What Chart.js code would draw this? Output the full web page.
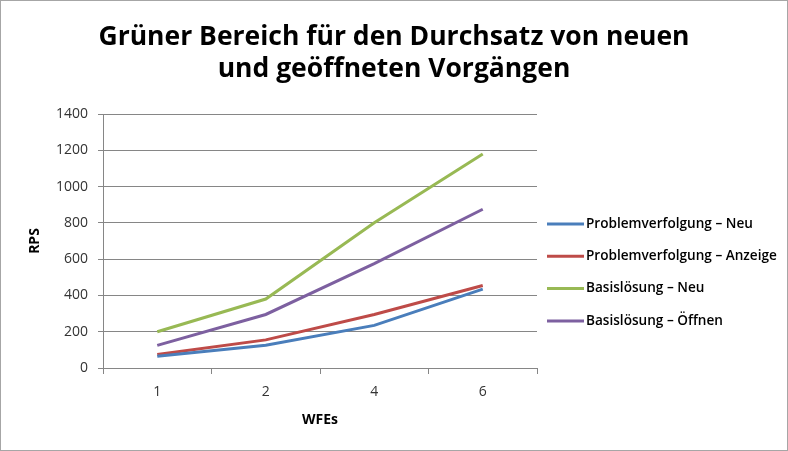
<!DOCTYPE html>
<html>
<head>
<meta charset="utf-8">
<script src="https://cdn.jsdelivr.net/npm/chart.js@4"></script>
<style>
  html, body { margin: 0; padding: 0; background: #fff; }
  #box { width: 788px; height: 451px; box-sizing: border-box; border: 1px solid #a6a6a6; position: relative; }
</style>
</head>
<body>
<div id="box"><canvas id="rps"></canvas></div>
<script>
// data
const wfes = ['1', '2', '4', '6'];
const problemNeu = [65, 125, 235, 435];
const problemAnzeige = [75, 155, 295, 455];
const basisNeu = [200, 380, 800, 1180];
const basisOeffnen = [125, 295, 575, 875];
const seriesNames = ['Problemverfolgung – Neu', 'Problemverfolgung – Anzeige', 'Basislösung – Neu', 'Basislösung – Öffnen'];
const seriesColors = ['#4a7ebb', '#be4b48', '#98b954', '#7d60a0'];
const yMax = 1400;
const yStep = 200;

const FONT = '"Open Sans", sans-serif';

// legend drawn on the right, one line per dataset
const sideLegend = {
  id: 'sideLegend',
  afterDraw(chart) {
    const c = chart.ctx;
    const x0 = chart.chartArea.right + 10;
    let y = 223;
    c.save();
    c.font = '600 13.6px ' + FONT;
    c.textBaseline = 'middle';
    c.fillStyle = '#000';
    chart.data.datasets.forEach(function (ds) {
      c.strokeStyle = ds.borderColor;
      c.lineWidth = 3;
      c.beginPath();
      c.moveTo(x0, y);
      c.lineTo(x0 + 37, y);
      c.stroke();
      c.fillText(ds.label, x0 + 39, y);
      y += 32.3;
    });
    c.restore();
  }
};

const sets = [problemNeu, problemAnzeige, basisNeu, basisOeffnen].map(function (vals, i) {
  return {
    label: seriesNames[i],
    data: vals,
    borderColor: seriesColors[i],
    backgroundColor: seriesColors[i],
    borderWidth: 3,
    pointRadius: 0,
    tension: 0
  };
});

new Chart(document.getElementById('rps'), {
  type: 'line',
  data: { labels: wfes, datasets: sets },
  plugins: [sideLegend],
  options: {
    responsive: true,
    maintainAspectRatio: false,
    animation: false,
    layout: { padding: 0 },
    plugins: {
      legend: { display: false },
      tooltip: { enabled: false },
      title: {
        display: true,
        text: ['Grüner Bereich für den Durchsatz von neuen', 'und geöffneten Vorgängen'],
        color: '#000',
        font: { family: FONT, size: 26.5, weight: 'bold', lineHeight: 1.2 },
        padding: { top: 21, bottom: 28.4 }
      }
    },
    scales: {
      x: {
        offset: true,
        grid: { offset: true, drawOnChartArea: false, color: '#868686', tickLength: 6 },
        border: { color: '#868686' },
        ticks: { color: '#333', font: { family: FONT, size: 14 }, padding: 10 },
        title: { display: true, text: 'WFEs', color: '#000', font: { family: FONT, size: 14, weight: 'bold' }, padding: { top: 4, bottom: 22 } },
        afterFit: function (s) { s.height = 82; }
      },
      y: {
        min: 0,
        max: yMax,
        grid: { color: '#868686', tickLength: 5 },
        border: { color: '#868686' },
        ticks: { stepSize: yStep, color: '#333', font: { family: FONT, size: 14 }, padding: 10,
                 callback: function (v) { return String(v); } },
        title: { display: true, text: 'RPS', color: '#000', font: { family: FONT, size: 14, weight: 'bold' }, padding: { top: 26, bottom: 4 } },
        afterFit: function (s) { s.width = 102; }
      },
      // empty axis on the right only keeps room for the legend
      side: {
        type: 'linear',
        position: 'right',
        display: true,
        grid: { display: false },
        border: { display: false },
        ticks: { display: false },
        afterFit: function (s) { s.width = 250; }
      }
    }
  }
});
</script>
</body>
</html>
